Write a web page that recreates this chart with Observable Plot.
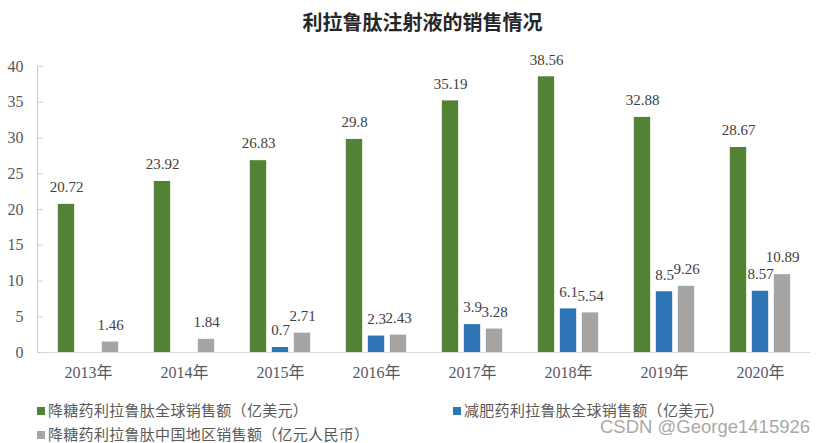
<!DOCTYPE html>
<html>
<head>
<meta charset="utf-8">
<script src="https://cdn.jsdelivr.net/npm/d3@7"></script>
<script src="https://cdn.jsdelivr.net/npm/@observablehq/plot@0.6"></script>
<style>
  html, body { margin: 0; padding: 0; background: #fff; }
  #wrap { position: relative; width: 821px; height: 443px; overflow: hidden; font-family: "Liberation Serif", "Noto Sans CJK SC", serif; }
  #title { position: absolute; left: 0; width: 821px; top: 8px; text-align: center; padding-left: 24px; box-sizing: border-box;
           font-family: "Noto Sans CJK SC", sans-serif; font-weight: 700; font-size: 20px; color: #262626; line-height: 28px; }
  #chart { position: absolute; left: 0; top: 50px; }
  .leg { position: absolute; font-family: "Noto Sans CJK SC", sans-serif; font-size: 15px; letter-spacing: 0.3px; color: #595959; line-height: 16px; white-space: nowrap; }
  .sw { display: inline-block; width: 8px; height: 8px; margin-right: 3px; vertical-align: 1px; }
  #wm { position: absolute; left: 600px; top: 419px; font-family: "Liberation Sans", sans-serif; font-size: 18.5px; line-height: 16px; color: #a9a9a9; white-space: nowrap; }
</style>
</head>
<body>
<div id="wrap">
  <div id="title"></div>
  <div id="chart"></div>
  <div id="legend"></div>
  <div id="wm">CSDN @George1415926</div>
</div>
<script>
const title = "利拉鲁肽注射液的销售情况";
const years = ["2013年", "2014年", "2015年", "2016年", "2017年", "2018年", "2019年", "2020年"];
const seriesNames = ["降糖药利拉鲁肽全球销售额（亿美元）", "减肥药利拉鲁肽全球销售额（亿美元）", "降糖药利拉鲁肽中国地区销售额（亿元人民币）"];
const seriesColors = ["#548235", "#2e75b6", "#a5a5a5"];
const greenValues = [20.72, 23.92, 26.83, 29.8, 35.19, 38.56, 32.88, 28.67];
const blueValues = [null, null, 0.7, 2.3, 3.9, 6.1, 8.5, 8.57];
const grayValues = [1.46, 1.84, 2.71, 2.43, 3.28, 5.54, 9.26, 10.89];
const yTicks = [0, 5, 10, 15, 20, 25, 30, 35, 40];

document.getElementById("title").textContent = title;

const allSeries = [greenValues, blueValues, grayValues];
const offsets = [-22, 0, 22];
const bandwidth = (821 - 37 - 11) / years.length;
const barW = 17;
const inset = (bandwidth - barW) / 2;

const marks = [
  Plot.ruleY([0], {stroke: "#d9d9d9", strokeWidth: 1.2}),
  Plot.frame({anchor: "left", stroke: "#c8c8c8"})
];
allSeries.forEach((vals, i) => {
  const data = years.map((y, j) => ({year: y, value: vals[j]})).filter(d => d.value != null);
  marks.push(Plot.barY(data, {
    x: "year", y: "value", fill: seriesColors[i], dx: offsets[i],
    insetLeft: inset, insetRight: inset
  }));
  marks.push(Plot.text(data, {
    x: "year", y: "value", text: d => String(d.value), dx: offsets[i], dy: -17,
    fill: "#404040", fontSize: 15, fontFamily: "Liberation Serif, serif"
  }));
});
marks.push(Plot.axisX({tickSize: 0, tickPadding: 14, fontSize: 16, fontFamily: "Liberation Serif, Noto Sans CJK SC, serif", color: "#595959", label: null}));
marks.push(Plot.axisY({ticks: yTicks, tickSize: -6, tickPadding: 20, stroke: "#d0d0d0", fontSize: 16, fontFamily: "Liberation Serif, serif", color: "#595959", label: null}));

const chart = Plot.plot({
  width: 821,
  height: 342,
  marginTop: 16,
  marginBottom: 40,
  marginLeft: 37,
  marginRight: 11,
  x: {type: "band", domain: years, padding: 0},
  y: {domain: [0, 40]},
  style: {background: "transparent", overflow: "visible"},
  marks
});
document.getElementById("chart").appendChild(chart);

const legendPos = [[37, 402], [453, 402], [37, 426]];
const legend = document.getElementById("legend");
seriesNames.forEach((name, i) => {
  const d = document.createElement("div");
  d.className = "leg";
  d.style.left = legendPos[i][0] + "px";
  d.style.top = legendPos[i][1] + "px";
  const sw = document.createElement("span");
  sw.className = "sw";
  sw.style.background = seriesColors[i];
  d.appendChild(sw);
  d.appendChild(document.createTextNode(name));
  legend.appendChild(d);
});
</script>
</body>
</html>
